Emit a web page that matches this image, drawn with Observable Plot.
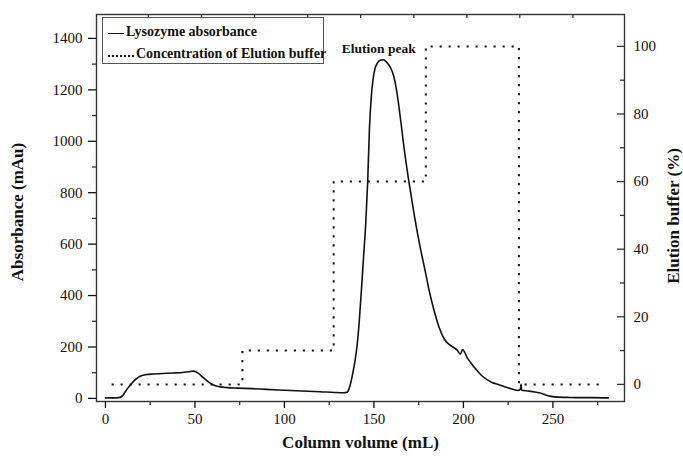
<!DOCTYPE html>
<html><head><meta charset="utf-8">
<script src="https://cdn.jsdelivr.net/npm/d3@7"></script>
<script src="https://cdn.jsdelivr.net/npm/@observablehq/plot@0.6"></script>
<style>
html,body{margin:0;padding:0;background:#fff;}
#wrap{position:relative;width:683px;height:461px;}
#legend{position:absolute;left:102px;top:17px;width:222px;height:47px;border:1px solid #555;background:#fff;
  font:bold 14px "Liberation Serif",serif;color:#111;box-sizing:border-box;}
#legend .solid{position:absolute;left:5px;width:16px;border-top:1.5px solid #111;}
#legend .dots{position:absolute;left:5px;width:26px;border-top:2px dotted #111;}
#legend .txt{position:absolute;white-space:nowrap;}
</style>
</head><body><div id="wrap"></div>
<script>
// ---- data ----
const volume = [0, 4, 7.5, 9.5, 11, 12.5, 14.5, 16.5, 18.5, 20.5, 23, 27, 32, 38, 43, 46.5, 49, 50.5, 52, 53.5, 55.5, 57.5, 59.5, 61.5, 64, 68, 74, 82, 90, 100, 110, 120, 128, 133, 135, 136.2, 137.2, 138.2, 139.3, 140.5, 141.7, 143, 144.3, 145.5, 146.5, 147.5, 148.5, 149.5, 150.5, 152, 153.5, 155, 156.5, 158, 159.5, 161, 162.5, 164, 165.5, 167, 169.5, 172.5, 175.5, 178.5, 181, 183.6, 186.4, 189.2, 192, 194.5, 196.5, 198.3, 199.5, 200.5, 202, 204, 207, 210, 213, 216, 219.5, 223, 227, 230.5, 231.8, 232.2, 232.6, 236, 240, 243, 246, 249, 253, 258, 265, 272, 281];
const absorbance = [2, 2, 3, 10, 25, 40, 57, 72, 83, 89, 93, 95, 97, 99, 101, 104, 106, 104, 97, 88, 76, 64, 55, 49, 45, 42, 40, 38, 35, 32, 29, 26, 23, 22, 24, 40, 65, 98, 140, 200, 290, 420, 560, 690, 840, 1050, 1170, 1240, 1280, 1305, 1315, 1317, 1312, 1300, 1283, 1255, 1205, 1133, 1050, 965, 845, 715, 600, 500, 415, 342, 277, 232, 210, 198, 188, 172, 190, 182, 160, 140, 113, 90, 74, 62, 54, 45, 37, 31, 35, 55, 32, 29, 25, 21, 13, 8, 5, 4, 3, 3, 2];

const bufferVolume = [4, 76.5, 127.5, 179, 231, 279];
const bufferPercent = [0, 10, 60, 100, 0, 0];

const xMajorTicks = [0, 50, 100, 150, 200, 250];
const xMinorTicks = [25, 75, 125, 175, 225, 275];
const xTopTicks = [24, 53.7, 83.3, 113, 142.6, 172.3, 201.9, 231.5, 261.2];
const yMajorTicks = [0, 200, 400, 600, 800, 1000, 1200, 1400];
const yMinorTicks = [100, 300, 500, 700, 900, 1100, 1300];
const rMajorTicks = [0, 20, 40, 60, 80, 100];
const rMinorTicks = [10, 30, 50, 70, 90];

const xLabel = "Column volume (mL)";
const yLabel = "Absorbance (mAu)";
const rLabel = "Elution buffer (%)";
const peakNote = [{x: 152.7, y: 1360, text: "Elution peak"}];
const legendItems = ["Lysozyme absorbance", "Concentration of Elution buffer"];

// ---- secondary axis mapping (percent -> absorbance units) ----
const pOffset = 54.5, pScale = 13.145;
const toLeft = p => pOffset + pScale * p;
const toRight = v => (v - pOffset) / pScale;

const absData = volume.map((v, i) => ({v, a: absorbance[i]}));
const bufData = bufferVolume.map((v, i) => ({v, a: toLeft(bufferPercent[i])}));

const font = '"Liberation Serif", "Times New Roman", serif';
const W = 683, H = 461, mL = 96, mR = 59, mT = 14, mB = 60;
const fw = W - mL - mR, fh = H - mT - mB;
const tk = "#333", tw = 1.3;

const chart = Plot.plot({
  width: W, height: H,
  marginLeft: mL, marginRight: mR, marginTop: mT, marginBottom: mB,
  x: {domain: [-5, 290]},
  y: {domain: [-12, 1493]},
  style: {fontFamily: font, fontSize: "15px", color: "#111", background: "#fff"},
  marks: [
    Plot.line(bufData, {x: "v", y: "a", curve: "step-after", stroke: "#111", strokeWidth: 2,
      strokeDasharray: "0.1 8.9", strokeLinecap: "square"}),
    Plot.line(absData, {x: "v", y: "a", curve: "monotone-x", stroke: "#111", strokeWidth: 1.6}),
    Plot.frame({stroke: "#333", strokeWidth: 1.4}),
    Plot.axisX(xMajorTicks, {anchor: "bottom", tickSize: 7, tickPadding: 5, label: null, fontSize: 15, strokeWidth: tw, tickFormat: d => String(d)}),
    Plot.tickX(xMinorTicks, {x: d => d, insetTop: fh, insetBottom: -4, stroke: tk, strokeWidth: tw}),
    Plot.tickX(xTopTicks, {x: d => d, insetBottom: fh - 4, stroke: tk, strokeWidth: tw}),
    Plot.axisY(yMajorTicks, {anchor: "left", tickSize: 8, tickPadding: 6, label: null, fontSize: 15, strokeWidth: tw, tickFormat: d => String(d)}),
    Plot.tickY(yMinorTicks, {y: d => d, insetRight: fw, insetLeft: -4, stroke: tk, strokeWidth: tw}),
    Plot.tickY(rMajorTicks.map(toLeft), {y: d => d, insetLeft: fw - 7, stroke: tk, strokeWidth: tw}),
    Plot.tickY(rMinorTicks.map(toLeft), {y: d => d, insetLeft: fw - 4, stroke: tk, strokeWidth: tw}),
    Plot.axisY(rMajorTicks.map(toLeft), {anchor: "right", tickSize: 0, tickPadding: 9, label: null,
      tickFormat: v => String(Math.round(toRight(v))), fontSize: 15}),
    Plot.text([xLabel], {frameAnchor: "bottom", dy: 46, text: d => d, fontSize: 17, fontWeight: "bold"}),
    Plot.text([yLabel], {frameAnchor: "left", dx: -79, dy: 4, rotate: -90, textAnchor: "middle", text: d => d, fontSize: 17, fontWeight: "bold"}),
    Plot.text([rLabel], {frameAnchor: "right", dx: 49, dy: 8, rotate: -90, textAnchor: "middle", text: d => d, fontSize: 17, fontWeight: "bold"}),
    Plot.text(peakNote, {x: "x", y: "y", text: "text", fontSize: 13.5, fontWeight: "bold"})
  ]
});

const wrap = document.getElementById("wrap");
wrap.appendChild(chart);

const legend = document.createElement("div");
legend.id = "legend";
legend.innerHTML =
  `<div class="solid" style="top:15px"></div><div class="txt" style="left:23px;top:6px">${legendItems[0]}</div>` +
  `<div class="dots" style="top:37px"></div><div class="txt" style="left:33px;top:28px">${legendItems[1]}</div>`;
wrap.appendChild(legend);
</script>
</body></html>
